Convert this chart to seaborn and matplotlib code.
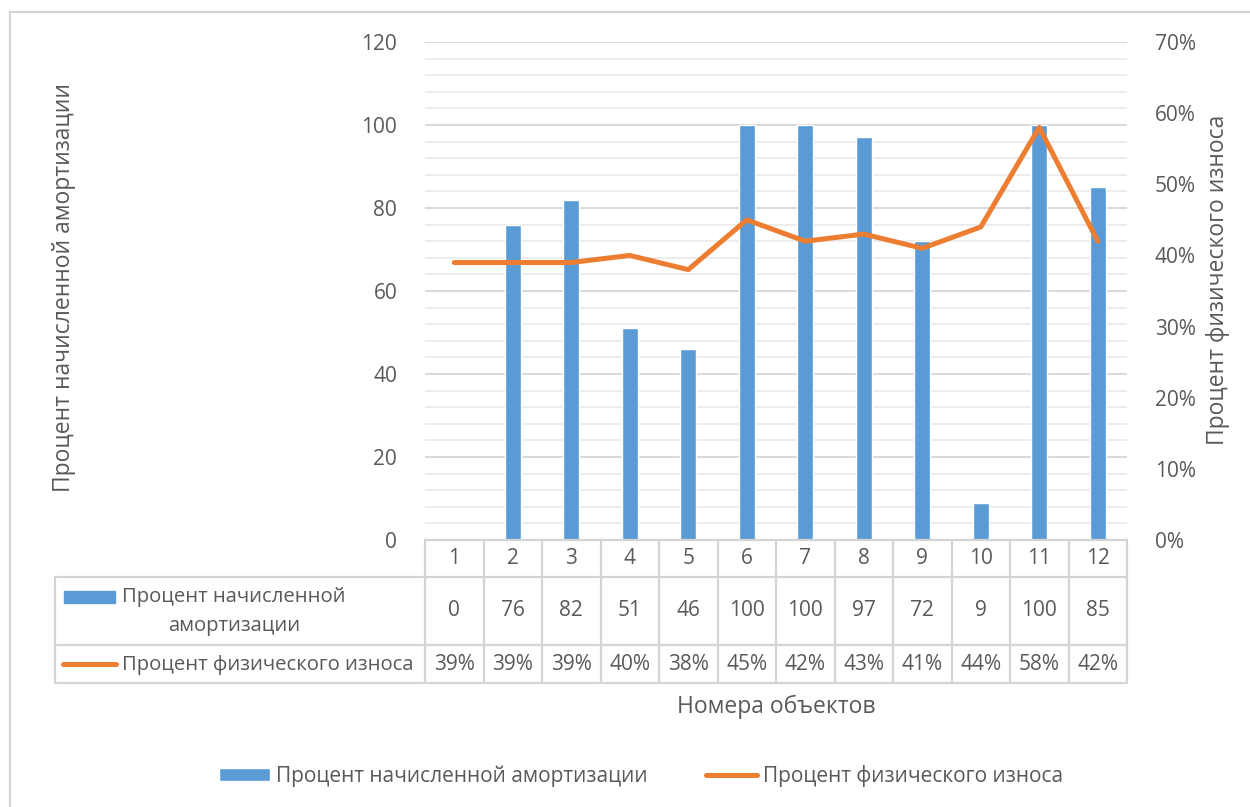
import matplotlib
matplotlib.use('Agg')
import matplotlib.pyplot as plt
import matplotlib.transforms as mtransforms
from matplotlib.lines import Line2D
from matplotlib.patches import Patch
from matplotlib.ticker import MultipleLocator, PercentFormatter
import seaborn as sns

# data
objects = ['1', '2', '3', '4', '5', '6', '7', '8', '9', '10', '11', '12']
amort = [0, 76, 82, 51, 46, 100, 100, 97, 72, 9, 100, 85]
wear = [0.39, 0.39, 0.39, 0.40, 0.38, 0.45, 0.42, 0.43, 0.41, 0.44, 0.58, 0.42]

bar_name = 'Процент начисленной амортизации'
line_name = 'Процент физического износа'

blue = '#5B9BD5'
orange = '#ED7D31'
txt = '#595959'
grid_major = '#d9d9d9'
grid_minor = '#ececec'

sns.set_style('white')
plt.rcParams['font.family'] = ['Open Sans', 'DejaVu Sans']
plt.rcParams['font.size'] = 15

W, H = 1250, 807
def fx(px):
    return px / W
def fy(py):
    return 1 - py / H

fig = plt.figure(figsize=(12.5, 8.07), dpi=100)
ax = fig.add_axes([fx(425), fy(540), fx(1127) - fx(425), fy(42) - fy(540)])

#bars
sns.barplot(x=objects, y=amort, color=blue, width=0.28, saturation=1, ax=ax, zorder=3)
ax.set_xlim(-0.5, len(objects) - 0.5)
ax.set_ylim(0, 120)
ax.yaxis.set_major_locator(MultipleLocator(20))
ax.yaxis.set_minor_locator(MultipleLocator(4))
ax.grid(axis='y', which='major', color=grid_major, linewidth=1.4, zorder=0)
ax.grid(axis='y', which='minor', color=grid_minor, linewidth=1.4, zorder=0)
ax.set_axisbelow(True)
ax.set_xticks([])
ax.set_xlabel('')
ax.set_ylabel('')
ax.tick_params(axis='y', which='both', length=0, pad=20, labelcolor=txt, labelsize=15)
for s in ax.spines.values():
    s.set_visible(False)

#line on secondary axis
ax2 = ax.twinx()
sns.lineplot(x=list(range(len(objects))), y=wear, color=orange, linewidth=3.6, ax=ax2, zorder=4)
ax2.set_ylim(0, 0.7)
ax2.yaxis.set_major_locator(MultipleLocator(0.1))
ax2.yaxis.set_major_formatter(PercentFormatter(1.0, decimals=0))
ax2.tick_params(axis='y', length=0, pad=20, labelcolor=txt, labelsize=15)
ax2.set_ylabel('')
for s in ax2.spines.values():
    s.set_visible(False)

#axis titles
fig.text(fx(64), fy(288), bar_name, rotation=90, ha='center', va='center', color=txt, fontsize=16.5)
fig.text(fx(1218), fy(280), line_name, rotation=90, ha='center', va='center', color=txt, fontsize=16.5)
fig.text(fx(776), fy(707), 'Номера объектов', ha='center', va='center', color=txt, fontsize=16.5)

#data table under the plot
tr = mtransforms.blended_transform_factory(ax.transData, fig.transFigure)
lc = '#d4d4d4'
lw = 1.6
n = len(objects)
fig.add_artist(Line2D([fx(425), fx(1127)], [fy(540), fy(540)], color=lc, lw=lw))
for y0 in [577, 645, 683]:
    fig.add_artist(Line2D([fx(55), fx(1127)], [fy(y0), fy(y0)], color=lc, lw=lw))
fig.add_artist(Line2D([fx(55), fx(55)], [fy(577), fy(683)], color=lc, lw=lw))
for k in range(n + 1):
    fig.add_artist(Line2D([k - 0.5, k - 0.5], [fy(540), fy(683)], color=lc, lw=lw, transform=tr))

for i in range(n):
    fig.text(i, fy(558), objects[i], transform=tr, ha='center', va='center', color=txt, fontsize=15)
    fig.text(i, fy(611), f'{amort[i]}', transform=tr, ha='center', va='center', color=txt, fontsize=15)
    fig.text(i, fy(665), f'{wear[i]:.0%}', transform=tr, ha='center', va='center', color=txt, fontsize=15)

#row keys
fig.add_artist(plt.Rectangle((fx(64), fy(603)), fx(115) - fx(64), fy(591) - fy(603), color=blue))
fig.text(fx(122), fy(597), 'Процент начисленной', ha='left', va='center', color=txt, fontsize=14.6)
fig.text(fx(234), fy(626), 'амортизации', ha='center', va='center', color=txt, fontsize=14.6)
fig.add_artist(Line2D([fx(63), fx(116)], [fy(664), fy(664)], color=orange, lw=3.6, solid_capstyle='round'))
fig.text(fx(122), fy(665), line_name, ha='left', va='center', color=txt, fontsize=14.6)

#legend
handles = [Patch(facecolor=blue, label=bar_name), Line2D([], [], color=orange, lw=3.6, label=line_name)]
fig.legend(handles=handles, loc='center', bbox_to_anchor=(fx(641), fy(776)), ncol=2, frameon=False,
           handlelength=2.45, handleheight=0.55, columnspacing=2.8, handletextpad=0.3,
           labelcolor=txt, fontsize=15)

#outer frame
fig.add_artist(Line2D([fx(10), fx(10)], [fy(12), 0], color=lc, lw=1.5))
fig.add_artist(Line2D([fx(10), 1], [fy(12), fy(12)], color=lc, lw=1.5))

fig.savefig('out.png', dpi=100, facecolor='white')
